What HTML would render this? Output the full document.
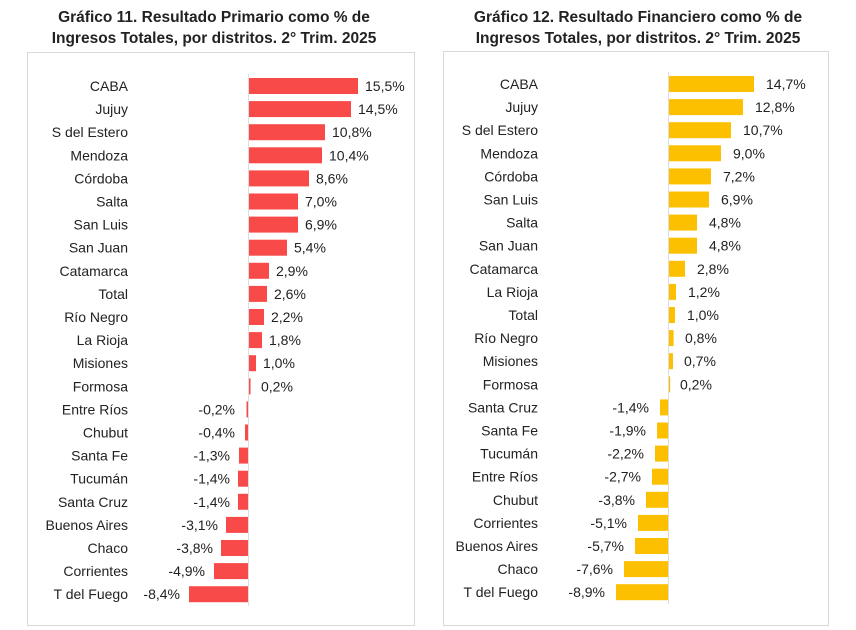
<!DOCTYPE html>
<html><head><meta charset="utf-8"><style>
body{margin:0;background:#fff}
svg{display:block;font-family:"Liberation Sans",sans-serif}
.t{font-weight:bold;font-size:15.5px;fill:#222}
.l{font-size:14px;fill:#222;text-anchor:end}
.v{font-size:14px;fill:#222}
.r{fill:#f94a4a}.y{fill:#fdc000}
</style></head><body>
<svg width="856" height="630" viewBox="0 0 856 630">
<text class="t" x="214" y="22" text-anchor="middle">Gráfico 11. Resultado Primario como % de</text>
<text class="t" x="214" y="43" text-anchor="middle">Ingresos Totales, por distritos. 2° Trim. 2025</text>
<text class="t" x="638" y="22" text-anchor="middle">Gráfico 12. Resultado Financiero como % de</text>
<text class="t" x="638" y="43" text-anchor="middle">Ingresos Totales, por distritos. 2° Trim. 2025</text>
<rect x="27.5" y="52.5" width="387" height="573" fill="none" stroke="#d8d8d8"/>
<rect x="443.5" y="51.5" width="385" height="574" fill="none" stroke="#d8d8d8"/>
<line x1="248.5" y1="74" x2="248.5" y2="606" stroke="#ddd"/>
<line x1="668.5" y1="72" x2="668.5" y2="604" stroke="#ddd"/>
<!-- left -->
<g transform="translate(0,86)"><text class="l" x="128" y="5">CABA</text><rect class="r" x="249" y="-8" width="109" height="16"/><text class="v" x="365" y="5">15,5%</text></g>
<g transform="translate(0,109.1)"><text class="l" x="128" y="5">Jujuy</text><rect class="r" x="249" y="-8" width="102" height="16"/><text class="v" x="358" y="5">14,5%</text></g>
<g transform="translate(0,132.2)"><text class="l" x="128" y="5">S del Estero</text><rect class="r" x="249" y="-8" width="76" height="16"/><text class="v" x="332" y="5">10,8%</text></g>
<g transform="translate(0,155.3)"><text class="l" x="128" y="5">Mendoza</text><rect class="r" x="249" y="-8" width="73" height="16"/><text class="v" x="329" y="5">10,4%</text></g>
<g transform="translate(0,178.4)"><text class="l" x="128" y="5">Córdoba</text><rect class="r" x="249" y="-8" width="60" height="16"/><text class="v" x="316" y="5">8,6%</text></g>
<g transform="translate(0,201.5)"><text class="l" x="128" y="5">Salta</text><rect class="r" x="249" y="-8" width="49" height="16"/><text class="v" x="305" y="5">7,0%</text></g>
<g transform="translate(0,224.6)"><text class="l" x="128" y="5">San Luis</text><rect class="r" x="249" y="-8" width="49" height="16"/><text class="v" x="305" y="5">6,9%</text></g>
<g transform="translate(0,247.7)"><text class="l" x="128" y="5">San Juan</text><rect class="r" x="249" y="-8" width="38" height="16"/><text class="v" x="294" y="5">5,4%</text></g>
<g transform="translate(0,270.8)"><text class="l" x="128" y="5">Catamarca</text><rect class="r" x="249" y="-8" width="20" height="16"/><text class="v" x="276" y="5">2,9%</text></g>
<g transform="translate(0,293.9)"><text class="l" x="128" y="5">Total</text><rect class="r" x="249" y="-8" width="18" height="16"/><text class="v" x="274" y="5">2,6%</text></g>
<g transform="translate(0,317)"><text class="l" x="128" y="5">Río Negro</text><rect class="r" x="249" y="-8" width="15" height="16"/><text class="v" x="271" y="5">2,2%</text></g>
<g transform="translate(0,340.1)"><text class="l" x="128" y="5">La Rioja</text><rect class="r" x="249" y="-8" width="13" height="16"/><text class="v" x="269" y="5">1,8%</text></g>
<g transform="translate(0,363.2)"><text class="l" x="128" y="5">Misiones</text><rect class="r" x="249" y="-8" width="7" height="16"/><text class="v" x="263" y="5">1,0%</text></g>
<g transform="translate(0,386.3)"><text class="l" x="128" y="5">Formosa</text><rect class="r" x="249" y="-8" width="1.5" height="16"/><text class="v" x="261" y="5">0,2%</text></g>
<g transform="translate(0,409.4)"><text class="l" x="128" y="5">Entre Ríos</text><rect class="r" x="246.5" y="-8" width="1.5" height="16"/><text class="l" x="235" y="5">-0,2%</text></g>
<g transform="translate(0,432.5)"><text class="l" x="128" y="5">Chubut</text><rect class="r" x="245" y="-8" width="3" height="16"/><text class="l" x="235" y="5">-0,4%</text></g>
<g transform="translate(0,455.6)"><text class="l" x="128" y="5">Santa Fe</text><rect class="r" x="239" y="-8" width="9" height="16"/><text class="l" x="230" y="5">-1,3%</text></g>
<g transform="translate(0,478.7)"><text class="l" x="128" y="5">Tucumán</text><rect class="r" x="238" y="-8" width="10" height="16"/><text class="l" x="230" y="5">-1,4%</text></g>
<g transform="translate(0,501.8)"><text class="l" x="128" y="5">Santa Cruz</text><rect class="r" x="238" y="-8" width="10" height="16"/><text class="l" x="230" y="5">-1,4%</text></g>
<g transform="translate(0,524.9)"><text class="l" x="128" y="5">Buenos Aires</text><rect class="r" x="226" y="-8" width="22" height="16"/><text class="l" x="218" y="5">-3,1%</text></g>
<g transform="translate(0,548)"><text class="l" x="128" y="5">Chaco</text><rect class="r" x="221" y="-8" width="27" height="16"/><text class="l" x="213" y="5">-3,8%</text></g>
<g transform="translate(0,571.1)"><text class="l" x="128" y="5">Corrientes</text><rect class="r" x="214" y="-8" width="34" height="16"/><text class="l" x="205" y="5">-4,9%</text></g>
<g transform="translate(0,594.2)"><text class="l" x="128" y="5">T del Fuego</text><rect class="r" x="189" y="-8" width="59" height="16"/><text class="l" x="180" y="5">-8,4%</text></g>
<!-- right -->
<g transform="translate(0,84)"><text class="l" x="538" y="5">CABA</text><rect class="y" x="669" y="-8" width="85" height="16"/><text class="v" x="766" y="5">14,7%</text></g>
<g transform="translate(0,107.1)"><text class="l" x="538" y="5">Jujuy</text><rect class="y" x="669" y="-8" width="74" height="16"/><text class="v" x="755" y="5">12,8%</text></g>
<g transform="translate(0,130.2)"><text class="l" x="538" y="5">S del Estero</text><rect class="y" x="669" y="-8" width="62" height="16"/><text class="v" x="743" y="5">10,7%</text></g>
<g transform="translate(0,153.3)"><text class="l" x="538" y="5">Mendoza</text><rect class="y" x="669" y="-8" width="52" height="16"/><text class="v" x="733" y="5">9,0%</text></g>
<g transform="translate(0,176.4)"><text class="l" x="538" y="5">Córdoba</text><rect class="y" x="669" y="-8" width="42" height="16"/><text class="v" x="723" y="5">7,2%</text></g>
<g transform="translate(0,199.5)"><text class="l" x="538" y="5">San Luis</text><rect class="y" x="669" y="-8" width="40" height="16"/><text class="v" x="721" y="5">6,9%</text></g>
<g transform="translate(0,222.6)"><text class="l" x="538" y="5">Salta</text><rect class="y" x="669" y="-8" width="28" height="16"/><text class="v" x="709" y="5">4,8%</text></g>
<g transform="translate(0,245.7)"><text class="l" x="538" y="5">San Juan</text><rect class="y" x="669" y="-8" width="28" height="16"/><text class="v" x="709" y="5">4,8%</text></g>
<g transform="translate(0,268.8)"><text class="l" x="538" y="5">Catamarca</text><rect class="y" x="669" y="-8" width="16" height="16"/><text class="v" x="697" y="5">2,8%</text></g>
<g transform="translate(0,291.9)"><text class="l" x="538" y="5">La Rioja</text><rect class="y" x="669" y="-8" width="7" height="16"/><text class="v" x="688" y="5">1,2%</text></g>
<g transform="translate(0,315)"><text class="l" x="538" y="5">Total</text><rect class="y" x="669" y="-8" width="6" height="16"/><text class="v" x="687" y="5">1,0%</text></g>
<g transform="translate(0,338.1)"><text class="l" x="538" y="5">Río Negro</text><rect class="y" x="669" y="-8" width="4.6" height="16"/><text class="v" x="685" y="5">0,8%</text></g>
<g transform="translate(0,361.2)"><text class="l" x="538" y="5">Misiones</text><rect class="y" x="669" y="-8" width="4" height="16"/><text class="v" x="684" y="5">0,7%</text></g>
<g transform="translate(0,384.3)"><text class="l" x="538" y="5">Formosa</text><rect class="y" x="669" y="-8" width="1.2" height="16"/><text class="v" x="680" y="5">0,2%</text></g>
<g transform="translate(0,407.4)"><text class="l" x="538" y="5">Santa Cruz</text><rect class="y" x="660" y="-8" width="8" height="16"/><text class="l" x="649" y="5">-1,4%</text></g>
<g transform="translate(0,430.5)"><text class="l" x="538" y="5">Santa Fe</text><rect class="y" x="657" y="-8" width="11" height="16"/><text class="l" x="646" y="5">-1,9%</text></g>
<g transform="translate(0,453.6)"><text class="l" x="538" y="5">Tucumán</text><rect class="y" x="655" y="-8" width="13" height="16"/><text class="l" x="644" y="5">-2,2%</text></g>
<g transform="translate(0,476.7)"><text class="l" x="538" y="5">Entre Ríos</text><rect class="y" x="652" y="-8" width="16" height="16"/><text class="l" x="641" y="5">-2,7%</text></g>
<g transform="translate(0,499.8)"><text class="l" x="538" y="5">Chubut</text><rect class="y" x="646" y="-8" width="22" height="16"/><text class="l" x="635" y="5">-3,8%</text></g>
<g transform="translate(0,522.9)"><text class="l" x="538" y="5">Corrientes</text><rect class="y" x="638" y="-8" width="30" height="16"/><text class="l" x="627" y="5">-5,1%</text></g>
<g transform="translate(0,546)"><text class="l" x="538" y="5">Buenos Aires</text><rect class="y" x="635" y="-8" width="33" height="16"/><text class="l" x="624" y="5">-5,7%</text></g>
<g transform="translate(0,569.1)"><text class="l" x="538" y="5">Chaco</text><rect class="y" x="624" y="-8" width="44" height="16"/><text class="l" x="613" y="5">-7,6%</text></g>
<g transform="translate(0,592.2)"><text class="l" x="538" y="5">T del Fuego</text><rect class="y" x="616" y="-8" width="52" height="16"/><text class="l" x="605" y="5">-8,9%</text></g>
</svg>
</body></html>
